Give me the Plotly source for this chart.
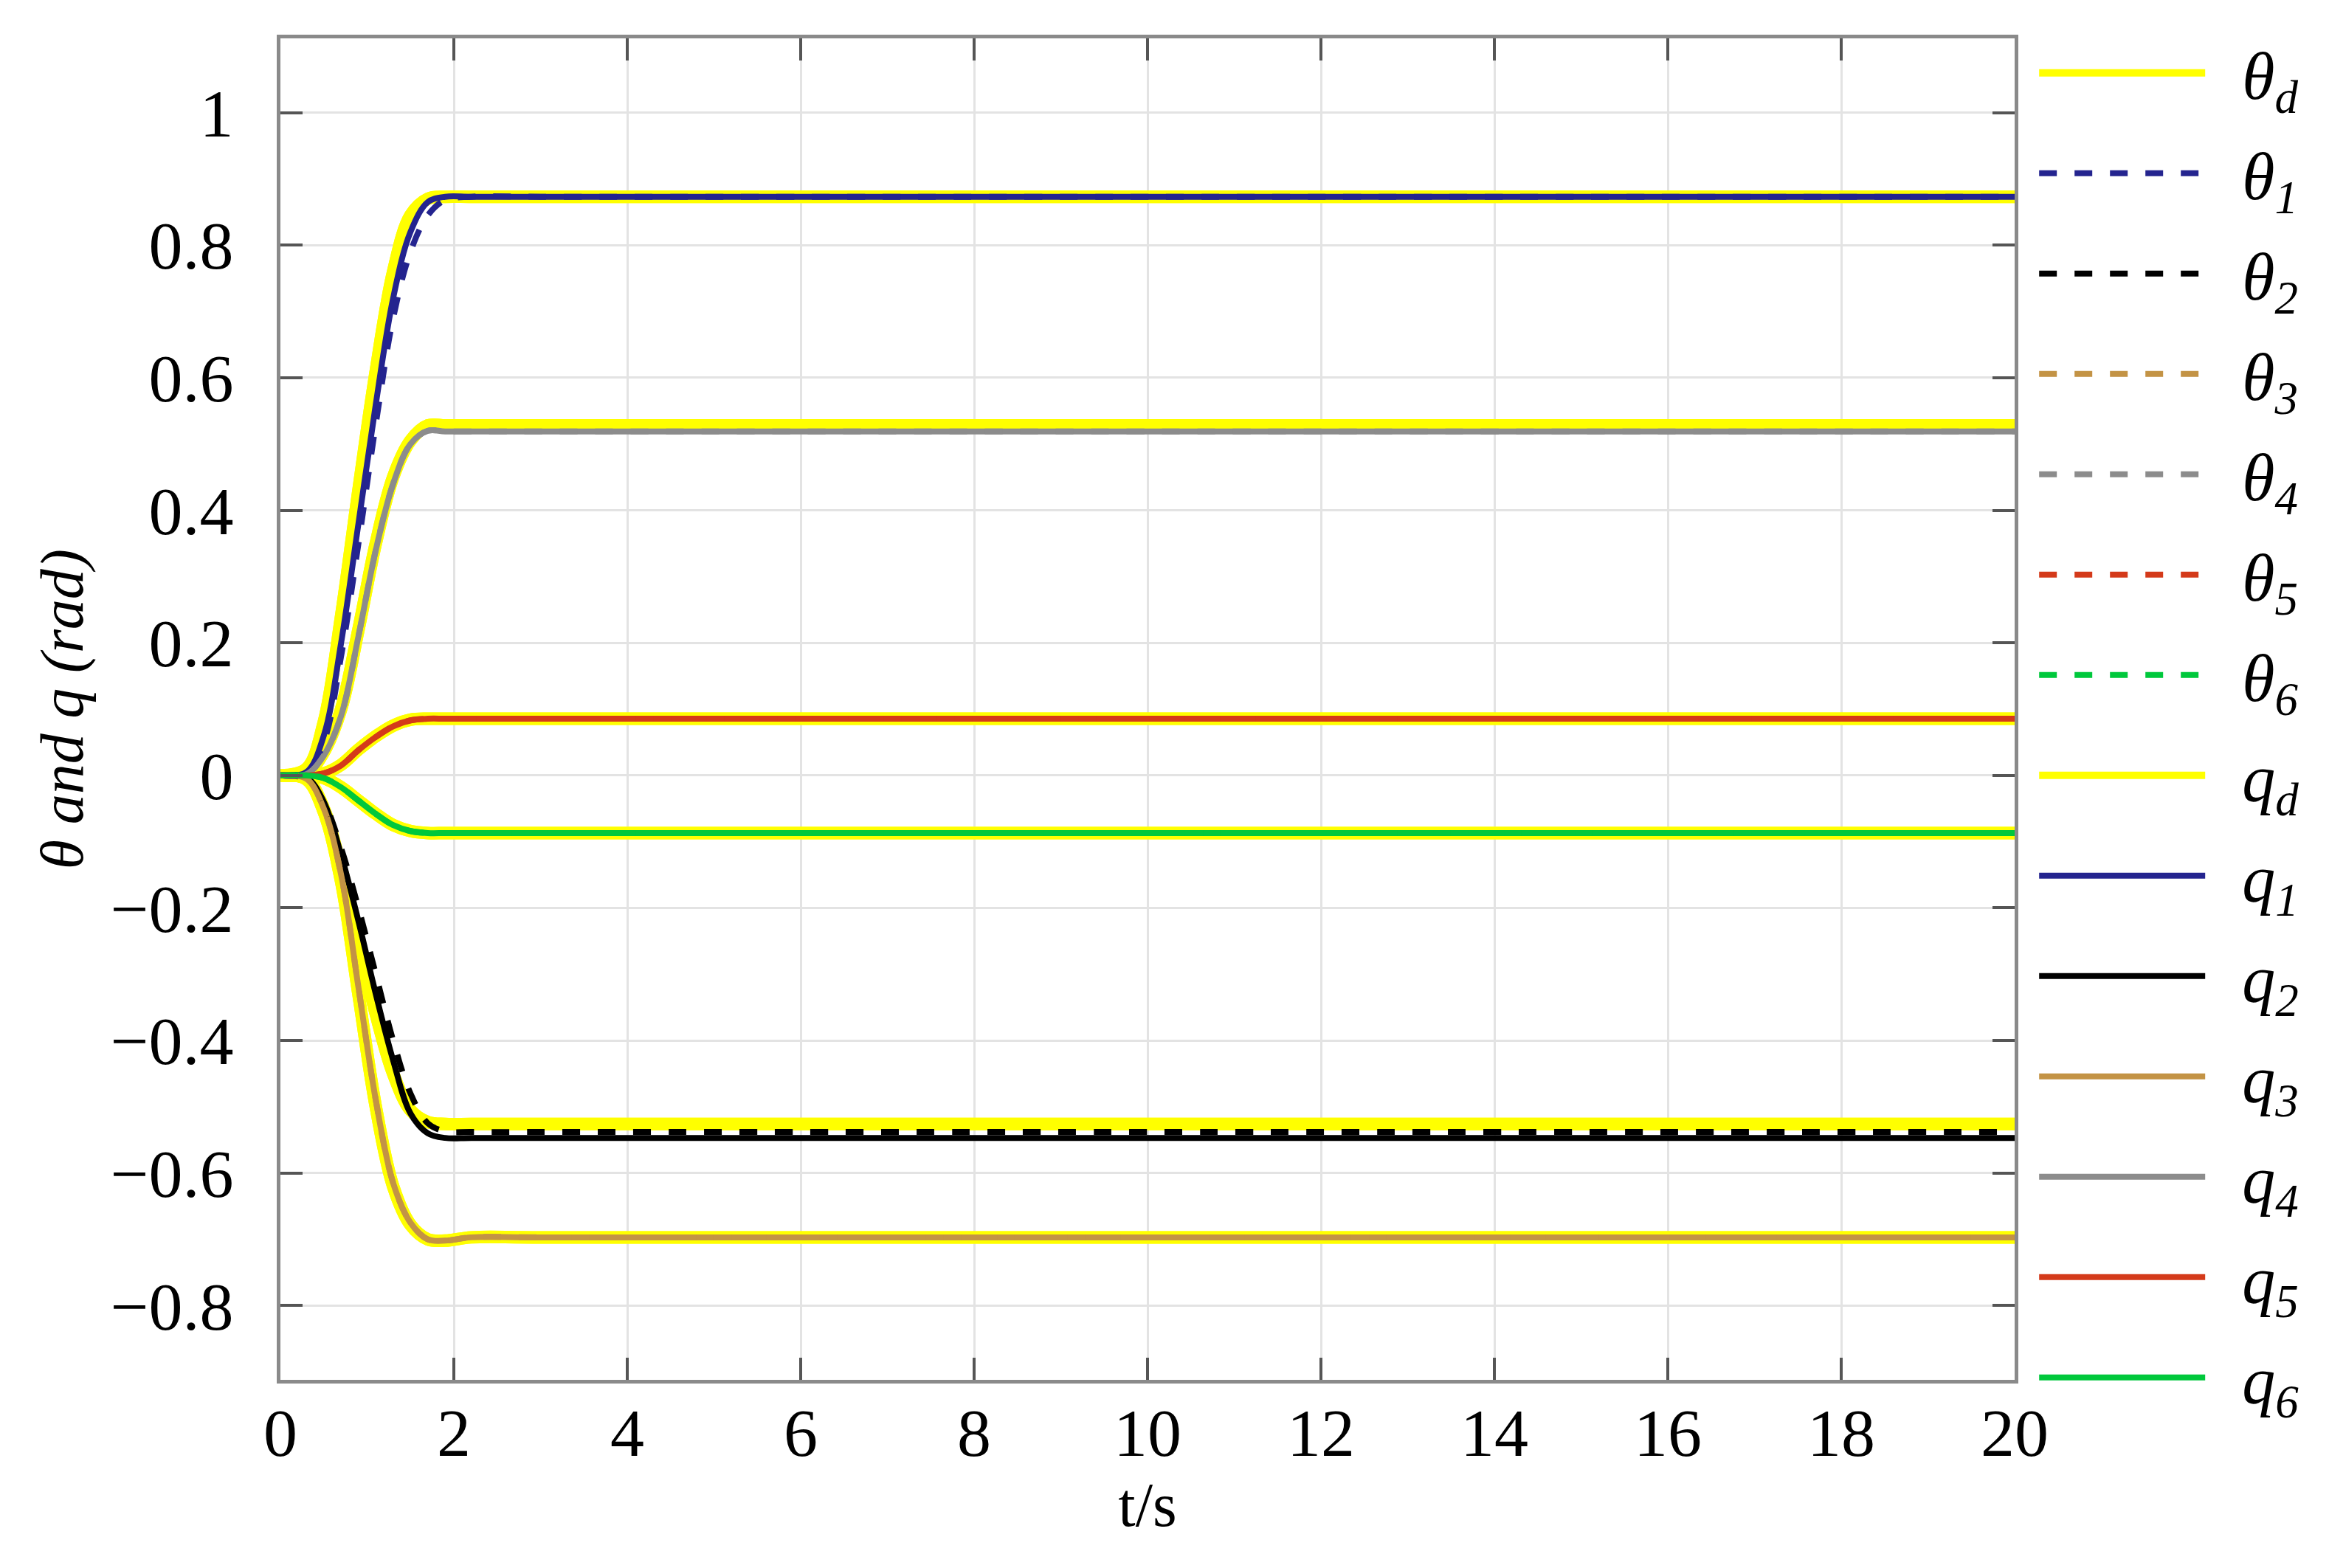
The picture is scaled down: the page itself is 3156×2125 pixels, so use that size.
import plotly.graph_objects as go

# temps (s) des points
T = [0, 0.3, 0.5, 0.7, 0.9, 1.1, 1.3, 1.5, 1.7, 1.9, 2.2, 3, 20]

# trajectoires désirées (jaune), une par articulation
QD1 = [0, 0.01, 0.08, 0.24, 0.43, 0.61, 0.76, 0.845, 0.87, 0.873, 0.873, 0.873, 0.873]
QD2 = [0, -0.005, -0.05, -0.14, -0.25, -0.36, -0.45, -0.505, -0.523, -0.526, -0.526, -0.526, -0.526]
QD3 = [0, -0.006, -0.055, -0.16, -0.33, -0.50, -0.62, -0.678, -0.70, -0.702, -0.697, -0.697, -0.697]
QD4 = [0, 0.003, 0.035, 0.10, 0.22, 0.35, 0.45, 0.505, 0.528, 0.528, 0.528, 0.528, 0.528]
QD5 = [0, 0, 0.003, 0.016, 0.039, 0.059, 0.075, 0.084, 0.0855, 0.0855, 0.0855, 0.0855, 0.0855]
QD6 = [0, 0, -0.004, -0.018, -0.038, -0.058, -0.075, -0.084, -0.087, -0.087, -0.087, -0.087, -0.087]

# theta (pointillés)
TH1 = [0, 0.004, 0.05, 0.18, 0.35, 0.53, 0.69, 0.79, 0.845, 0.868, 0.873, 0.873, 0.873]
TH2 = [0, -0.006, -0.04, -0.11, -0.20, -0.30, -0.40, -0.48, -0.525, -0.537, -0.538, -0.538, -0.538]
TH3 = [0, -0.005, -0.05, -0.15, -0.32, -0.49, -0.615, -0.675, -0.70, -0.702, -0.697, -0.697, -0.697]
TH4 = [0, 0.002, 0.03, 0.09, 0.21, 0.34, 0.44, 0.50, 0.52, 0.519, 0.519, 0.519, 0.519]
TH5 = [0, 0, 0.003, 0.015, 0.038, 0.058, 0.074, 0.083, 0.0855, 0.0855, 0.0855, 0.0855, 0.0855]
TH6 = [0, 0, -0.004, -0.018, -0.038, -0.058, -0.075, -0.084, -0.087, -0.087, -0.087, -0.087, -0.087]

# q (traits pleins)
Q1 = [0, 0.005, 0.06, 0.20, 0.38, 0.56, 0.72, 0.82, 0.865, 0.873, 0.873, 0.873, 0.873]
Q2 = [0, -0.003, -0.04, -0.12, -0.22, -0.33, -0.43, -0.51, -0.54, -0.547, -0.547, -0.547, -0.547]
Q3 = [0, -0.005, -0.05, -0.15, -0.32, -0.49, -0.615, -0.675, -0.70, -0.702, -0.697, -0.697, -0.697]
Q4 = [0, 0.002, 0.03, 0.09, 0.21, 0.34, 0.44, 0.50, 0.52, 0.519, 0.519, 0.519, 0.519]
Q5 = [0, 0, 0.003, 0.015, 0.038, 0.058, 0.074, 0.083, 0.0855, 0.0855, 0.0855, 0.0855, 0.0855]
Q6 = [0, 0, -0.004, -0.018, -0.038, -0.058, -0.075, -0.084, -0.087, -0.087, -0.087, -0.087, -0.087]

X_TICKS = [0, 2, 4, 6, 8, 10, 12, 14, 16, 18, 20]
Y_TICKS = [-0.8, -0.6, -0.4, -0.2, 0, 0.2, 0.4, 0.6, 0.8, 1]

COLORS = ["#24248f", "#000000", "#c39345", "#8c8c8c", "#d43a1a", "#00c83c"]
YELLOW = "#ffff00"
FONT = "Liberation Serif"
SP = "&nbsp;&nbsp;"


def concat(*series):
    """Met plusieurs courbes dans une seule trace, séparées par None."""
    xs, ys = [], []
    for s in series:
        xs += T + [None]
        ys += list(s) + [None]
    return xs, ys


fig = go.Figure()

desired = [QD1, QD2, QD3, QD4, QD5, QD6]
thetas = [TH1, TH2, TH3, TH4, TH5, TH6]
qs = [Q1, Q2, Q3, Q4, Q5, Q6]

# jaune en dessous
x_d, y_d = concat(*desired)
fig.add_trace(go.Scatter(x=x_d, y=y_d, mode="lines", line=dict(color=YELLOW, width=17, shape="spline"),
                         name=SP + "<i>θ<sub>d</sub></i>", legendrank=1, legendgroup="td"))
fig.add_trace(go.Scatter(x=x_d, y=y_d, mode="lines", line=dict(color=YELLOW, width=17, shape="spline"),
                         name=SP + "<i>q<sub>d</sub></i>", legendrank=8, legendgroup="qd"))

for i, (q, c) in enumerate(zip(qs, COLORS)):
    fig.add_trace(go.Scatter(x=T, y=q, mode="lines", line=dict(color=c, width=8, shape="spline"),
                             name=SP + f"<i>q<sub>{i + 1}</sub></i>", legendrank=9 + i, legendgroup=f"q{i}"))

for i, (th, c) in enumerate(zip(thetas, COLORS)):
    fig.add_trace(go.Scatter(x=T, y=th, mode="lines",
                             line=dict(color=c, width=8, dash="dash", shape="spline"),
                             name=SP + f"<i>θ<sub>{i + 1}</sub></i>", legendrank=2 + i, legendgroup=f"t{i}"))

axis_common = dict(
    showline=True, linecolor="#8a8a8a", linewidth=5, mirror="ticks",
    showgrid=True, gridcolor="#e3e3e3", gridwidth=3,
    ticks="inside", tickcolor="#555555", ticklen=30, tickwidth=4,
    tickfont=dict(family=FONT, size=92, color="black"),
    zeroline=False,
)

fig.update_xaxes(range=[0, 20], tickvals=X_TICKS, ticklabelstandoff=-12,
                 title=dict(text="t/s", font=dict(family=FONT, size=84, color="black"), standoff=0),
                 **axis_common)
fig.update_yaxes(range=[-0.912, 1.112], tickvals=Y_TICKS, ticklabelstandoff=40,
                 title=dict(text="<i>θ and q (rad)</i>", font=dict(family=FONT, size=82, color="black"),
                            standoff=12),
                 **axis_common)

fig.update_layout(
    width=3156, height=2125,
    margin=dict(l=372, r=434, t=44, b=263),
    plot_bgcolor="white", paper_bgcolor="white",
    legend=dict(x=1.012, xanchor="left", y=1.01, yanchor="top", maxheight=2100,
                font=dict(family=FONT, size=90, color="black"),
                itemwidth=225, tracegroupgap=16, bgcolor="rgba(0,0,0,0)"),
)

fig.write_html("out.html")
